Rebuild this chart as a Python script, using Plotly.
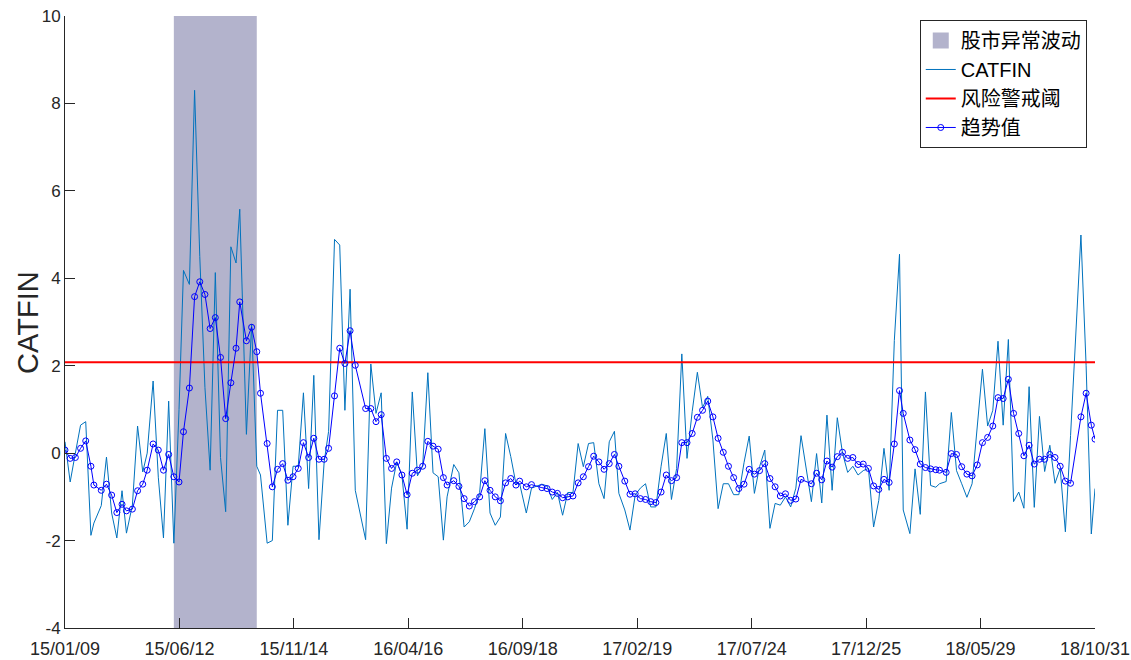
import pandas as pd
import plotly.graph_objects as go

# ---- weekly observation dates (last trading day of each week) ----
fridays = pd.date_range("2015-01-09", "2018-10-26", freq="W-FRI")
closed_weeks = {"2016-02-12", "2016-10-07", "2017-10-06", "2018-10-05"}
holiday_last_day = {
    "2015-02-20": "2015-02-17", "2015-04-03": "2015-04-02", "2015-05-01": "2015-04-30",
    "2015-06-19": "2015-06-18", "2015-09-04": "2015-09-02", "2015-10-02": "2015-09-30",
    "2016-01-01": "2015-12-31", "2016-06-10": "2016-06-08", "2016-09-16": "2016-09-14",
    "2017-01-27": "2017-01-26", "2018-02-16": "2018-02-14", "2018-04-06": "2018-04-04",
}
dates = []
for d in fridays:
    s = d.strftime("%Y-%m-%d")
    if s in closed_weeks:
        continue
    dates.append(pd.Timestamp(holiday_last_day.get(s, s)))
dates.append(pd.Timestamp("2018-10-31"))

# ---- CATFIN weekly values ----
catfin = [
    0.26, -0.66, 0.0, 0.64, 0.72, -1.88, -1.6, -1.2, -0.09, -1.37,
    -1.94, -0.86, -1.83, -1.19, 0.62, -0.43, 0.0, 1.65, -0.55, -1.94,
    1.19, -2.06, 1.0, 4.18, 3.86, 8.3, 4.5, 1.5, -0.39, 4.13,
    -0.1, -1.34, 4.72, 4.35, 5.58, 0.43, 2.95, -0.3, -0.5, -2.06,
    -2.0, 0.98, 0.98, -1.65, -0.3, -0.3, 1.38, -0.81, 1.78, -1.98,
    -0.2, 0.5, 4.89, 4.76, 0.98, 3.75, -0.85,
    -1.98, 2.04, 0.91, 1.38, -2.07, -0.8, -0.2,
    -0.5, -1.74, 1.40, -0.52, -0.3,
    1.84, -0.45, -0.54, -1.99, -1.0, -0.26, -0.45, -1.69, -1.57, -1.27,
    -0.9, 0.56, -1.37, -1.65, -1.46, 0.45, -0.08, -0.7, -0.7, -1.37, -0.8,
    -0.71, -0.75, -1.06, -0.9, -1.42, -0.9, -0.9, 0.22,
    -0.31, 0.22, 0.24, -0.7, -1.04, 0.26, 0.5, -0.92, -1.3, -1.76,
    -0.96, -0.8, -0.70, -1.23, -1.23, -0.3, 0.45, -1.06, -0.35, 2.27,
    -0.12, 0.95, 1.85, 1.04, 1.3, 0.30, -1.27, -0.7, -0.7, -0.95,
    -0.95, -0.22, 0.39, -0.92, -0.31, 0.07, -1.72, -1.15, -1.19, -1.0,
    -1.23, -0.8, 0.40,
    -1.11, -0.01, -1.14, 0.87, -0.85, 0.81,
    0.0, -0.44, -0.3, -0.5, -0.4, -0.35, -1.69, -1.08, 0.11, -0.85,
    2.58, 4.55, -1.30, -1.84, -0.36, -1.40, 1.40, -0.74, -0.78, -0.7,
    -0.65, 0.93, -0.4, -0.7, -1.01, -0.7, 0.6, 1.92, 0.62, 0.98,
    2.56, 0.64, 2.6, -1.11, -0.89, -1.26, 1.52, -1.24, 0.84, -0.42,
    0.18, -0.69, -0.35, -1.80, 0.4,
    4.99, 2.0, -1.85,
    -0.81,
]

# ---- trend of CATFIN ----
trend = [
    0.07, -0.12, -0.10, 0.11, 0.28, -0.30, -0.73, -0.85, -0.71, -0.96,
    -1.36, -1.17, -1.32, -1.28, -0.86, -0.71, -0.39, 0.21, 0.07, -0.39,
    -0.03, -0.54, -0.66, 0.49, 1.49, 3.58, 3.92, 3.63, 2.85, 3.10,
    2.19, 0.79, 1.61, 2.40, 3.46, 2.57, 2.88, 2.32, 1.37, 0.22,
    -0.77, -0.37, -0.24, -0.62, -0.54, -0.35, 0.24, -0.10, 0.34, -0.14,
    -0.14, 0.11, 1.31, 2.40, 2.05, 2.80, 2.01,
    1.02, 1.02, 0.72, 0.88, -0.12, -0.35, -0.20,
    -0.50, -0.95, -0.46, -0.39, -0.30,
    0.27, 0.16, 0.09, -0.56, -0.73, -0.63, -0.76, -1.04, -1.21, -1.11,
    -1.00, -0.63, -0.85, -1.00, -1.09, -0.68, -0.58, -0.73, -0.64, -0.77, -0.72,
    -0.79, -0.81, -0.89, -0.92, -1.02, -1.00, -0.98, -0.68,
    -0.54, -0.31, -0.07, -0.20, -0.37, -0.24, -0.03, -0.30, -0.64, -0.94,
    -0.93, -1.04, -1.06, -1.11, -1.13, -0.89, -0.50, -0.63, -0.56, 0.24,
    0.24, 0.45, 0.82, 0.98, 1.19, 0.83, 0.34, 0.02, -0.30, -0.56,
    -0.81, -0.71, -0.37, -0.48, -0.40, -0.24, -0.58, -0.77, -0.98, -0.93,
    -1.08, -1.05, -0.60,
    -0.70, -0.46, -0.61, -0.18, -0.32, -0.08,
    0.02, -0.12, -0.10, -0.26, -0.25, -0.35, -0.75, -0.83, -0.60, -0.67,
    0.21, 1.43, 0.91, 0.30, 0.08, -0.25, -0.33, -0.36, -0.38, -0.39,
    -0.44, -0.01, -0.03, -0.31, -0.48, -0.52, -0.27, 0.24, 0.36, 0.62,
    1.27, 1.25, 1.69, 0.91, 0.45, -0.06, 0.18, -0.25, -0.14, -0.14,
    -0.03, -0.10, -0.30, -0.64, -0.69,
    0.83, 1.37, 0.64,
    0.32,
]

risk_threshold = 2.08
turmoil_period = ("2015-06-05", "2015-09-25")
y_range = (-4, 10)
y_ticks = [-4, -2, 0, 2, 4, 6, 8, 10]
y_ticktext = [str(v) for v in y_ticks]

start, end = dates[0], dates[-1]
x_ticks = pd.date_range(start, end, periods=10)
x_ticktext = [t.strftime("%y/%m/%d") for t in x_ticks]

axis_color = "#262626"
shade_color = "#B3B3CC"
fig = go.Figure()

# shaded period of abnormal market swings
t0, t1 = pd.Timestamp(turmoil_period[0]), pd.Timestamp(turmoil_period[1])
fig.add_trace(go.Scatter(
    x=[t0, t1, t1, t0, t0],
    y=[y_range[0], y_range[0], y_range[1], y_range[1], y_range[0]],
    fill="toself", fillcolor=shade_color, mode="lines",
    line=dict(width=0, color=shade_color), hoverinfo="skip",
    legendgroup="shade", showlegend=False,
))
# legend key for the shaded period (square patch)
fig.add_trace(go.Scatter(
    x=[None], y=[None], mode="markers", name="股市异常波动",
    marker=dict(symbol="square", size=22, color=shade_color),
    legendgroup="shade",
))
fig.add_trace(go.Scatter(
    x=dates, y=catfin, mode="lines", name="CATFIN",
    line=dict(color="#0072BD", width=1),
))
fig.add_trace(go.Scatter(
    x=[start, end], y=[risk_threshold, risk_threshold], mode="lines",
    name="风险警戒阈", line=dict(color="#FF0000", width=2),
))
fig.add_trace(go.Scatter(
    x=dates, y=trend, mode="lines+markers", name="趋势值",
    line=dict(color="#0000FF", width=1),
    marker=dict(symbol="circle-open", size=6, color="#0000FF", line=dict(width=1)),
))

fig.update_layout(
    width=1131, height=660,
    margin=dict(l=65, r=36, t=16, b=32),
    paper_bgcolor="white", plot_bgcolor="white",
    font=dict(family="Liberation Sans, Arial, sans-serif", color=axis_color),
    showlegend=True,
    legend=dict(
        x=0.992, y=0.9935, xanchor="right", yanchor="top",
        bgcolor="white", bordercolor=axis_color, borderwidth=1,
        font=dict(family="Liberation Sans, Noto Sans CJK SC, sans-serif", size=20, color="black"),
        itemwidth=30, itemsizing="trace", tracegroupgap=0,
    ),
    annotations=[dict(
        text="CATFIN", textangle=-90, xref="paper", yref="paper",
        x=-0.036, y=0.5, xanchor="center", yanchor="middle", showarrow=False,
        font=dict(family="Liberation Sans, Arial, sans-serif", size=29, color=axis_color),
    )],
)
fig.update_xaxes(
    range=[start, end], tickvals=list(x_ticks), ticktext=x_ticktext,
    showgrid=False, zeroline=False, showline=True, linecolor=axis_color, linewidth=1,
    ticks="inside", ticklen=10, tickcolor=axis_color, mirror=False, automargin=False,
    ticklabelstandoff=4,
    tickfont=dict(family="Liberation Sans Narrow, Liberation Sans, sans-serif", size=18, color=axis_color),
)
fig.update_yaxes(
    range=list(y_range), tickvals=y_ticks, ticktext=y_ticktext,
    showgrid=False, zeroline=False, showline=True, linecolor=axis_color, linewidth=1,
    ticks="inside", ticklen=10, tickcolor=axis_color, mirror=False, automargin=False,
    tickfont=dict(family="Liberation Sans, Arial, sans-serif", size=17, color=axis_color),
)

fig.write_html("out.html")
